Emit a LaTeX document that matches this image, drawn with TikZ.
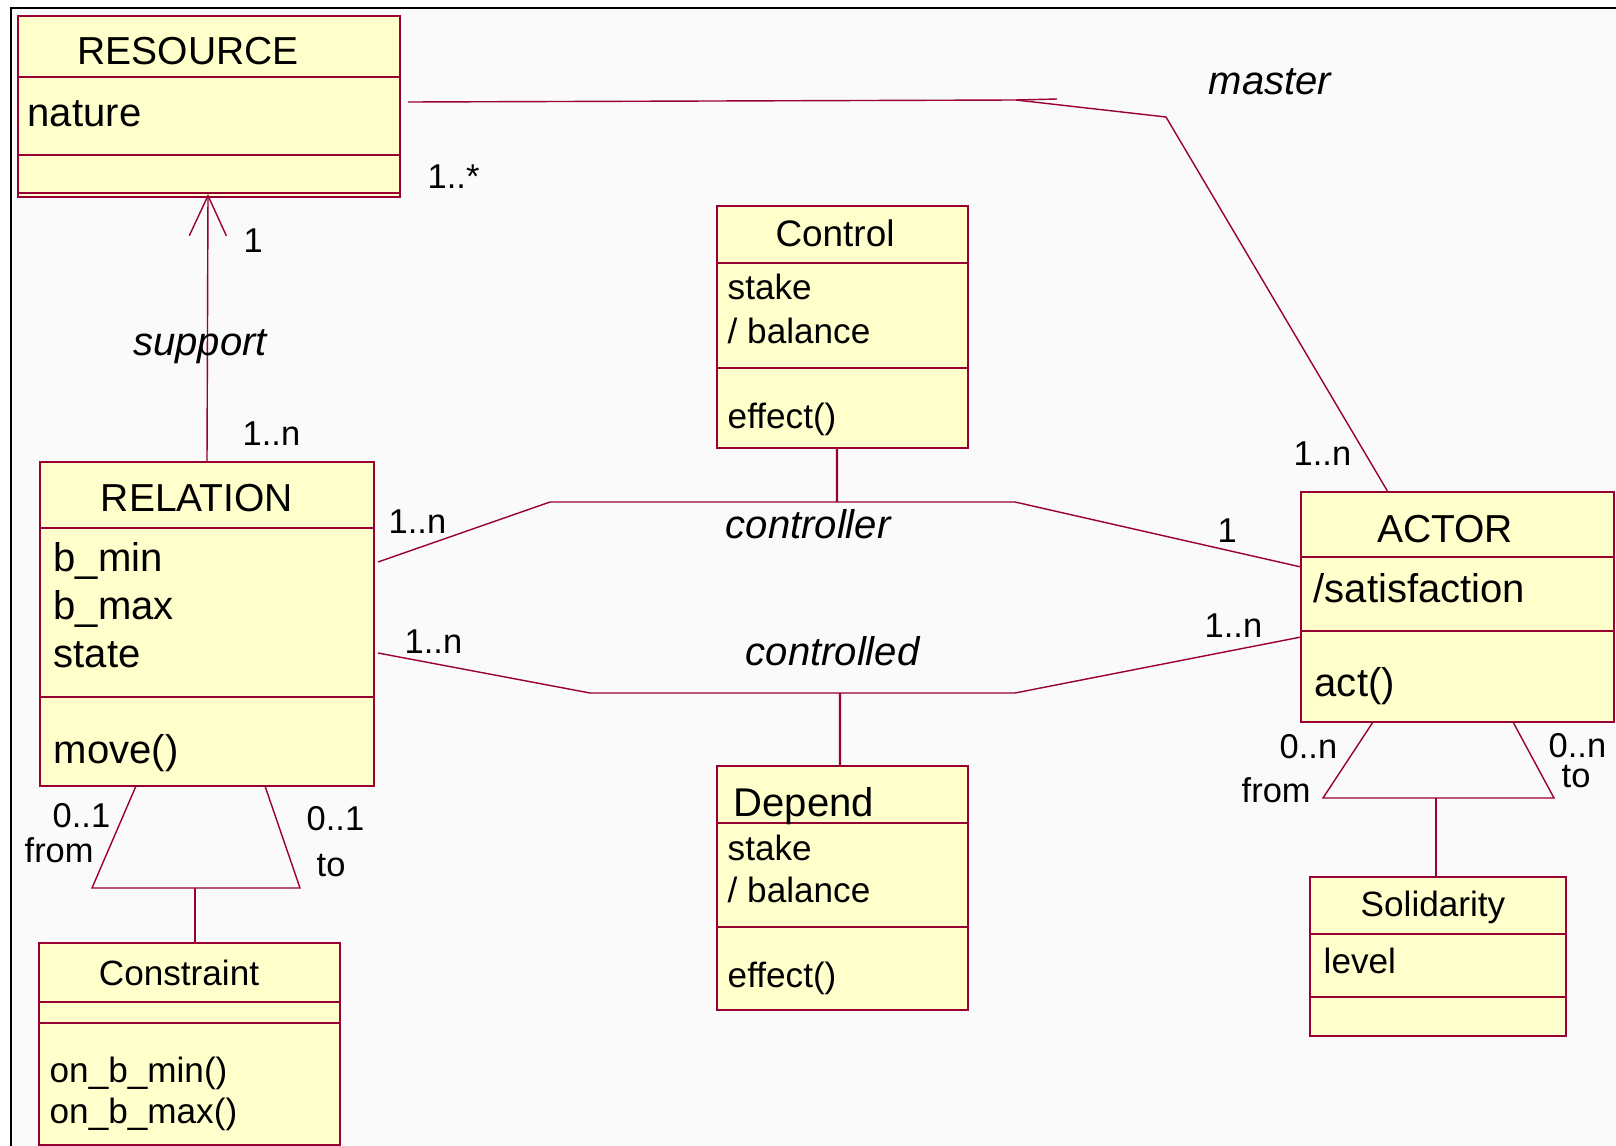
\documentclass[tikz,border=0pt]{standalone}
\usepackage{fontspec}
\setmainfont{Liberation Sans}
\usetikzlibrary{arrows.meta, calc}
\definecolor{rose}{RGB}{153,0,51}
\definecolor{cream}{RGB}{255,255,204}
\definecolor{paper}{RGB}{250,250,250}

\begin{document}
\begin{tikzpicture}[
  cls/.style={draw=rose,fill=cream,line width=0.45pt,
              inner sep=0pt,outer sep=0pt},
  sep/.style={draw=rose,line width=0.4pt},
  assoc/.style={draw=rose,line width=0.4pt},
  dep/.style={draw=rose,line width=0.7pt},
  ttl/.style={anchor=base,inner sep=0pt,font=\fontsize{11.1}{13}\selectfont},
  ttls/.style={anchor=base,inner sep=0pt,font=\fontsize{10}{12}\selectfont},
  att/.style={anchor=base west,inner sep=0pt,font=\fontsize{11.4}{13}\selectfont},
  atts/.style={anchor=base west,inner sep=0pt,font=\fontsize{10}{12}\selectfont},
  role/.style={anchor=base,inner sep=0pt,font=\fontsize{11.4}{13}\selectfont\itshape},
  mult/.style={anchor=base west,inner sep=0pt,font=\fontsize{9.8}{11}\selectfont}
]
\useasboundingbox (0,0) rectangle (16.16,-11.46);

% sheet
\fill[paper] (0.11,-0.08) rectangle (16.16,-11.46);
\draw[black,line width=0.6pt] (0.11,-11.46) -- (0.11,-0.08) -- (16.16,-0.08);

% class boxes
\node[cls,minimum width=3.82cm,minimum height=1.81cm] (resource)   at (2.09,-1.065) {};
\node[cls,minimum width=3.34cm,minimum height=3.24cm] (relation)   at (2.07,-6.24) {};
\node[cls,minimum width=2.51cm,minimum height=2.42cm] (control)    at (8.425,-3.27) {};
\node[cls,minimum width=2.51cm,minimum height=2.44cm] (depend)     at (8.425,-8.88) {};
\node[cls,minimum width=3.13cm,minimum height=2.30cm] (actor)      at (14.575,-6.07) {};
\node[cls,minimum width=3.01cm,minimum height=2.02cm] (constraint) at (1.895,-10.44) {};
\node[cls,minimum width=2.56cm,minimum height=1.59cm] (solidarity) at (14.38,-9.565) {};

% compartments
\draw[sep] ([yshift=-0.61cm]resource.north west) -- ([yshift=-0.61cm]resource.north east);
\draw[sep] ([yshift=-1.39cm]resource.north west) -- ([yshift=-1.39cm]resource.north east);
\draw[sep] ([yshift=-1.77cm]resource.north west) -- ([yshift=-1.77cm]resource.north east);
\draw[sep] ([yshift=-0.66cm]relation.north west) -- ([yshift=-0.66cm]relation.north east);
\draw[sep] ([yshift=-2.35cm]relation.north west) -- ([yshift=-2.35cm]relation.north east);
\draw[sep] ([yshift=-0.57cm]control.north west) -- ([yshift=-0.57cm]control.north east);
\draw[sep] ([yshift=-1.62cm]control.north west) -- ([yshift=-1.62cm]control.north east);
\draw[sep] ([yshift=-0.57cm]depend.north west) -- ([yshift=-0.57cm]depend.north east);
\draw[sep] ([yshift=-1.61cm]depend.north west) -- ([yshift=-1.61cm]depend.north east);
\draw[sep] ([yshift=-0.65cm]actor.north west) -- ([yshift=-0.65cm]actor.north east);
\draw[sep] ([yshift=-1.39cm]actor.north west) -- ([yshift=-1.39cm]actor.north east);
\draw[sep] ([yshift=-0.59cm]constraint.north west) -- ([yshift=-0.59cm]constraint.north east);
\draw[sep] ([yshift=-0.80cm]constraint.north west) -- ([yshift=-0.80cm]constraint.north east);
\draw[sep] ([yshift=-0.57cm]solidarity.north west) -- ([yshift=-0.57cm]solidarity.north east);
\draw[sep] ([yshift=-1.20cm]solidarity.north west) -- ([yshift=-1.20cm]solidarity.north east);

% class texts
\node[ttl] (resT)  at (1.88,-0.65) {RESOURCE};
\node[att] (resA)  at (0.27,-1.26) {nature};

\node[ttl] (relT)  at (1.97,-5.11) {RELATION};
\node[att] (relA1) at (0.53,-5.71) {b\_min};
\node[att] (relA2) at (0.53,-6.19) {b\_max};
\node[att] (relA3) at (0.53,-6.67) {state};
\node[att] (relO)  at (0.53,-7.63) {move()};

\node[ttl,font=\fontsize{10.5}{12}\selectfont] (ctlT) at (8.35,-2.46) {Control};
\node[atts] (ctlA1) at (7.27,-2.99) {stake};
\node[atts] (ctlA2) at (7.27,-3.43) {/ balance};
\node[atts] (ctlO)  at (7.27,-4.28) {effect()};

\node[att]  (depT)  at (7.33,-8.16) {Depend};
\node[atts] (depA1) at (7.27,-8.60) {stake};
\node[atts] (depA2) at (7.27,-9.02) {/ balance};
\node[atts] (depO)  at (7.27,-9.87) {effect()};

\node[ttl] (actT)  at (14.45,-5.42) {ACTOR};
\node[att] (actA)  at (13.13,-6.02) {/satisfaction};
\node[att] (actO)  at (13.14,-6.96) {act()};

\node[ttls] (conT)  at (1.79,-9.85) {Constraint};
\node[atts] (conO1) at (0.49,-10.82) {on\_b\_min()};
\node[atts] (conO2) at (0.49,-11.23) {on\_b\_max()};

\node[ttls] (solT)  at (14.33,-9.16) {Solidarity};
\node[atts] (solA)  at (13.23,-9.73) {level};

% bends
\coordinate (mA)    at (10.16,-1.00);
\coordinate (mStub) at (10.57,-0.99);
\coordinate (mB)    at (11.66,-1.17);
\coordinate (supTip) at (2.08,-1.94);
\coordinate (cA)    at (5.50,-5.02);
\coordinate (cB)    at (10.15,-5.02);
\coordinate (ctlJ)  at (8.37,-5.02);
\coordinate (dA)    at (5.90,-6.93);
\coordinate (dB)    at (10.15,-6.93);
\coordinate (depJ)  at (8.40,-6.93);
\coordinate (relFL) at (0.92,-8.88);
\coordinate (relFR) at (3.00,-8.88);
\coordinate (relJ)  at (1.95,-8.88);
\coordinate (actFL) at (13.23,-7.98);
\coordinate (actFR) at (15.54,-7.98);
\coordinate (actJ)  at (14.36,-7.98);

% master
\draw[assoc] ([xshift=0.08cm,yshift=0.045cm]resource.east) -- (mA) -- (mB)
      -- ([xshift=0.87cm]actor.north west);
\draw[assoc] (mA) -- (mStub);
\node[role] (masterL) at (12.70,-0.95) {master};
\node[mult] (mRes) at (4.27,-1.88) {1..*};
\node[mult] (mAct) at (12.93,-4.65) {1..n};

% support
\draw[assoc,-{Straight Barb[length=0.40cm,width=0.37cm]}] (relation.north) -- (supTip);
\node[role] (supportL) at (2.00,-3.55) {support};
\node[mult] (sRes) at (2.43,-2.52) {1};
\node[mult] (sRel) at (2.42,-4.45) {1..n};

% controller
\draw[assoc] ([xshift=0.04cm,yshift=0.62cm]relation.east) -- (cA) -- (cB)
      -- ([yshift=0.40cm]actor.west);
\draw[dep] ([xshift=-0.055cm]control.south) -- (ctlJ);
\node[role,anchor=base west] (controllerL) at (7.25,-5.38) {controller};
\node[mult] (crRel) at (3.88,-5.33) {1..n};
\node[mult] (crAct) at (12.17,-5.42) {1};

% controlled
\draw[assoc] ([xshift=0.04cm,yshift=-0.29cm]relation.east) -- (dA) -- (dB)
      -- ([yshift=-0.30cm]actor.west);
\draw[dep] (depJ) -- ([xshift=-0.025cm]depend.north);
\node[role,anchor=base west] (controlledL) at (7.45,-6.65) {controlled};
\node[mult] (cdRel) at (4.04,-6.53) {1..n};
\node[mult] (cdAct) at (12.04,-6.37) {1..n};

% relation -> constraint
\draw[assoc] ([xshift=0.96cm]relation.south west) -- (relFL) -- (relFR)
      -- ([xshift=-1.09cm]relation.south east);
\draw[dep] (relJ) -- (relJ |- constraint.north);
\node[mult] (rFromM) at (0.52,-8.27) {0..1};
\node[mult] (rFrom)  at (0.24,-8.62) {from};
\node[mult] (rToM)   at (3.06,-8.30) {0..1};
\node[mult] (rTo)    at (3.16,-8.76) {to};

% actor -> solidarity
\draw[assoc] ([xshift=0.72cm]actor.south west) -- (actFL) -- (actFR)
      -- ([xshift=-1.01cm]actor.south east);
\draw[dep] (actJ) -- (actJ |- solidarity.north);
\node[mult] (aFromM) at (12.79,-7.58) {0..n};
\node[mult] (aFrom)  at (12.41,-8.02) {from};
\node[mult] (aToM)   at (15.48,-7.57) {0..n};
\node[mult] (aTo)    at (15.61,-7.87) {to};

\end{tikzpicture}
\end{document}
